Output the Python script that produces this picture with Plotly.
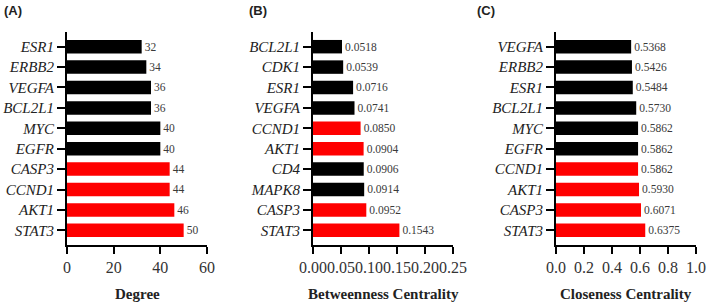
import plotly.graph_objects as go

# ---- data ----
deg_genes = ["ESR1", "ERBB2", "VEGFA", "BCL2L1", "MYC", "EGFR", "CASP3", "CCND1", "AKT1", "STAT3"]
deg_vals = [32, 34, 36, 36, 40, 40, 44, 44, 46, 50]

btw_genes = ["BCL2L1", "CDK1", "ESR1", "VEGFA", "CCND1", "AKT1", "CD4", "MAPK8", "CASP3", "STAT3"]
btw_vals = [0.0518, 0.0539, 0.0716, 0.0741, 0.0850, 0.0904, 0.0906, 0.0914, 0.0952, 0.1543]

clo_genes = ["VEGFA", "ERBB2", "ESR1", "BCL2L1", "MYC", "EGFR", "CCND1", "AKT1", "CASP3", "STAT3"]
clo_vals = [0.5368, 0.5426, 0.5484, 0.5730, 0.5862, 0.5862, 0.5862, 0.5930, 0.6071, 0.6375]

hub_genes = ["STAT3", "AKT1", "CASP3", "CCND1"]

panel_labels = ["(A)", "(B)", "(C)"]
axis_titles = ["Degree", "Betweenness Centrality", "Closeness Centrality"]
x_ranges = [[0, 60], [0, 0.25], [0, 1.0]]
x_dticks = [20, 0.05, 0.2]
x_formats = ["d", ".2f", ".1f"]
val_formats = ["{:d}", "{:.4f}", "{:.4f}"]

W, H = 707, 305
x_doms_px = [(67, 207), (313, 453), (556, 696)]
y_dom = [1 - 245 / H, 1 - 32 / H]

serif = "Liberation Serif"

fig = go.Figure()
panels = [(deg_genes, deg_vals), (btw_genes, btw_vals), (clo_genes, clo_vals)]
for i, (genes, vals) in enumerate(panels):
    sfx = "" if i == 0 else str(i + 1)
    colors = ["#ff0000" if g in hub_genes else "#000000" for g in genes]
    fig.add_trace(go.Bar(
        x=vals, y=genes, orientation="h",
        marker=dict(color=colors, line=dict(width=0)),
        text=[val_formats[i].format(v) for v in vals],
        textposition="outside", cliponaxis=False,
        textfont=dict(family=serif, size=12, color="#3a3a3a"),
        xaxis="x" + sfx, yaxis="y" + sfx, showlegend=False,
    ))
    x0, x1 = x_doms_px[i]
    fig.update_layout(**{
        "xaxis" + sfx: dict(
            domain=[x0 / W, x1 / W], anchor="y" + sfx, range=x_ranges[i],
            dtick=x_dticks[i], tick0=0, tickformat=x_formats[i], tickangle=0,
            automargin=False,
            showline=True, linecolor="#000", linewidth=2, ticks="outside",
            ticklen=7, tickwidth=2, tickcolor="#000", showgrid=False, zeroline=False,
            tickfont=dict(family=serif, size=16, color="#333"),
        ),
        "yaxis" + sfx: dict(
            domain=y_dom, anchor="x" + sfx, type="category",
            categoryorder="array", categoryarray=genes,
            range=[len(genes) - 1 + 0.72, -0.72], automargin=False,
            showline=True, linecolor="#000", linewidth=2, ticks="outside",
            ticklen=8, tickwidth=2, tickcolor="#000", showgrid=False, zeroline=False,
            tickfont=dict(family=serif, size=15, color="#222", style="italic"),
        ),
    })
    fig.add_annotation(
        text=axis_titles[i], xref="paper", yref="paper",
        x=(x0 + x1) / 2 / W, y=1 - 294 / H, showarrow=False,
        xanchor="center", yanchor="middle",
        font=dict(family=serif, size=15, color="#222", weight="bold"),
    )

label_x = [2, 247, 475]
for lab, lx in zip(panel_labels, label_x):
    fig.add_annotation(
        text=lab, xref="paper", yref="paper", x=lx / W, y=1 - 10 / H,
        showarrow=False, xanchor="left", yanchor="middle",
        font=dict(family="Liberation Sans", size=13, color="#222", weight="bold"),
    )

fig.update_layout(
    width=W, height=H, margin=dict(l=0, r=0, t=0, b=0),
    paper_bgcolor="white", plot_bgcolor="white", bargap=0.34,
)
fig.write_html("out.html", config={"displayModeBar": False},
               post_script="document.body.style.margin='0';")
